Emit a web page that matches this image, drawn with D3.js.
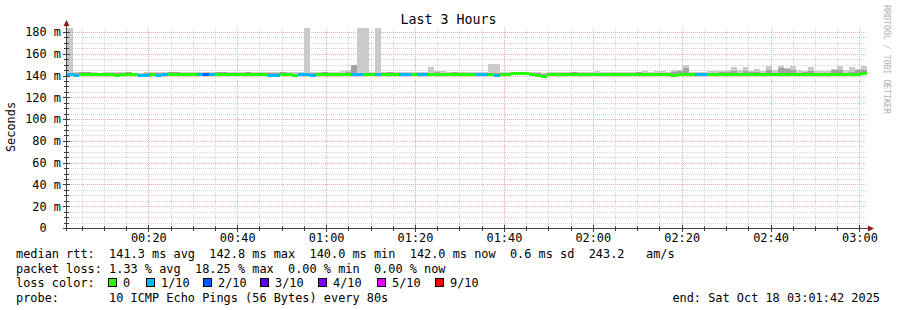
<!DOCTYPE html>
<html><head><meta charset="utf-8">
<script src="https://cdn.jsdelivr.net/npm/d3@7/dist/d3.min.js"></script>
<style>
html,body{margin:0;padding:0;background:#fff;}
svg{display:block;}
text{font-family:"DejaVu Sans Mono",monospace;white-space:pre;}
</style></head><body>
<svg id="c" width="897" height="310"></svg>
<script>
// ---- data (one value per 80 s step, 135 steps) ----
const med = [
141.0,140.8,141.6,141.7,141.3,141.1,141.4,141.0,140.9,141.3,
141.5,141.1,140.5,140.5,141.3,140.9,141.4,141.7,141.6,141.3,
141.5,141.3,141.0,141.1,141.0,141.6,141.8,141.5,141.2,141.4,
141.8,141.3,141.0,141.2,140.8,140.8,141.6,141.4,140.4,141.0,
141.0,140.9,141.4,141.7,141.5,141.3,141.5,141.6,141.2,141.0,
141.2,141.4,141.0,141.5,141.6,141.2,141.3,141.0,141.1,141.5,
141.2,141.0,141.6,141.3,141.4,141.6,141.5,141.2,141.4,141.1,
141.0,141.3,140.9,141.2,141.4,142.4,142.3,142.2,141.4,140.8,
140.0,141.3,141.5,141.2,141.4,141.6,141.3,141.2,141.5,141.4,
141.1,141.3,141.5,141.2,141.3,141.4,141.6,141.3,141.1,141.4,
141.5,141.2,140.8,141.3,141.8,141.2,141.5,141.4,141.5,141.3,
141.6,141.4,141.2,141.5,141.3,141.7,141.4,141.2,141.5,141.3,
141.6,141.4,141.2,141.5,141.6,141.3,141.4,141.5,141.2,141.6,
141.4,141.5,141.3,141.8,142.0];
const pingLo = [
139.6,139.4,140.0,140.2,139.8,139.7,139.9,139.5,139.4,139.8,
140.0,139.6,139.1,139.2,139.8,139.5,139.9,140.2,140.0,139.8,
140.0,139.8,139.5,139.6,139.5,140.1,140.2,140.0,139.7,139.9,
140.2,139.8,139.5,139.7,139.4,139.4,140.0,139.9,139.0,139.6,
139.5,139.4,139.9,140.1,140.0,139.8,140.0,140.1,139.7,139.5,
139.7,139.9,139.5,140.0,140.1,139.7,139.8,139.5,139.6,140.0,
139.7,139.5,140.1,139.8,139.9,140.1,140.0,139.7,139.9,139.6,
139.5,139.8,139.4,139.7,139.9,140.8,140.7,140.6,139.9,139.4,
138.7,139.8,140.0,139.7,139.9,140.1,139.8,139.7,140.0,139.9,
139.6,139.8,140.0,139.7,139.8,139.9,140.1,139.8,139.6,139.9,
140.0,139.7,139.3,139.8,140.2,139.7,140.0,139.9,140.0,139.8,
140.1,139.9,139.7,140.0,139.8,140.2,139.9,139.7,140.0,139.8,
140.1,139.9,139.7,140.0,140.1,139.8,139.9,140.0,139.7,140.1,
139.9,140.0,139.8,140.3,140.5];
const pingHi = [
190.0,143.0,142.9,143.3,143.1,142.8,143.2,143.4,142.9,143.0,
143.3,142.8,142.7,142.9,143.1,143.2,143.0,143.5,143.3,143.0,
143.4,143.6,143.2,143.0,143.2,143.4,143.5,143.1,143.0,143.2,
143.5,143.1,142.9,143.0,143.3,142.9,143.4,143.6,143.1,143.0,
190.0,143.1,143.3,143.5,143.2,143.0,144.0,144.8,150.0,190.0,
190.0,143.5,190.0,143.4,143.6,143.2,143.3,143.5,143.1,143.4,
143.2,148.0,144.5,144.2,143.3,143.6,143.2,143.1,143.4,143.0,
143.2,151.0,151.0,143.1,143.5,143.6,143.5,143.4,143.3,143.5,
142.8,143.1,143.6,143.4,143.2,143.5,143.3,143.0,143.6,143.8,
143.2,143.4,143.6,143.5,143.3,143.7,143.4,144.0,143.6,143.8,
144.2,143.5,145.0,145.2,150.0,143.6,143.3,143.2,143.8,144.2,
144.5,145.5,147.5,145.0,147.5,144.2,146.0,144.3,149.0,145.0,
148.5,147.0,149.0,145.0,144.2,148.0,144.3,144.6,144.2,146.0,
149.0,145.0,148.0,146.0,149.0];
const pingMid = [
142.6,142.2,142.9,143.0,142.6,142.4,142.7,142.5,142.2,142.6,
142.9,142.4,141.8,141.9,142.6,142.2,142.7,143.0,142.9,142.6,
142.8,142.7,142.3,142.4,142.3,142.9,143.1,142.8,142.5,142.7,
143.1,142.6,142.3,142.5,142.1,142.1,142.9,142.8,141.7,142.3,
142.4,142.2,142.7,143.0,142.8,142.6,142.8,143.3,150.0,142.6,
142.5,142.7,142.3,142.8,142.9,142.5,142.6,142.3,142.4,142.8,
142.5,142.3,142.9,142.6,142.7,142.9,142.8,142.5,142.7,142.4,
142.3,142.6,142.2,142.5,142.7,143.7,143.6,143.5,142.7,142.1,
141.4,142.6,142.8,142.5,142.7,142.9,142.6,142.5,142.8,142.7,
142.4,142.6,142.8,142.5,142.6,142.7,142.9,142.6,142.4,142.7,
142.8,142.5,143.5,143.8,146.5,142.5,142.8,142.7,142.8,142.6,
143.5,143.5,144.5,142.8,144.5,143.0,143.2,142.5,145.0,142.6,
146.5,146.0,145.5,142.8,142.9,144.5,142.7,142.8,142.5,144.8,
145.0,142.8,143.5,145.5,145.5];
const loss = [
1,1,0,0,0,0,0,0,0,0,
0,0,1,1,0,1,1,0,0,0,
0,0,1,2,1,0,0,0,0,0,
0,0,0,0,1,1,0,0,0,1,
1,1,0,0,0,0,0,0,1,1,
0,0,1,0,0,0,1,1,0,1,
1,0,0,0,0,0,0,0,0,1,
1,0,1,0,0,0,0,0,0,0,
0,0,0,0,0,0,0,0,0,0,
0,0,0,0,0,0,0,0,0,0,
0,0,0,0,0,0,1,1,0,0,
0,0,0,0,0,0,0,0,0,0,
0,0,0,0,0,0,0,0,0,0,
0,0,0,0,0];
const lossLevels = [0,1,2,3,4,5,9];
const lossLabels = ["0","1/10","2/10","3/10","4/10","5/10","9/10"];
const lossColors = ["#26ff00","#00b8ff","#0059ff","#5e00ff","#7e00ff","#dd00ff","#ff0000"];
const yTickValues = [0,20,40,60,80,100,120,140,160,180];
const titleText = "Last 3 Hours";
const yAxisTitle = "Seconds";
const watermark = "RRDTOOL / TOBI OETIKER";
const legendLines = [
  "median rtt:  141.3 ms avg  142.8 ms max  140.0 ms min  142.0 ms now  0.6 ms sd  243.2   am/s",
  "packet loss: 1.33 % avg  18.25 % max  0.00 % min  0.00 % now"
];
const lossColorTitle = "loss color:";
const probeLine = "probe:       10 ICMP Echo Pings (56 Bytes) every 80s";
const endLine = "end: Sat Oct 18 03:01:42 2025";
const startTime = Date.UTC(2025,9,18,0,1,42);
const stepSeconds = 80;

// ---- layout ----
const svg = d3.select("#c");
const L = 67, R = 867, T = 28, B = 228;
const FS = 11.9;
const nSteps = med.length;
const x = d3.scaleUtc().domain([new Date(startTime), new Date(startTime + nSteps*stepSeconds*1000)]).range([L, R]);
const y = d3.scaleLinear().domain([0, 183.67]).range([B, T]).clamp(true);
const tAt = i => new Date(startTime + i*stepSeconds*1000);
const px = v => Math.round(v);

svg.append("rect").attr("width",897).attr("height",310).attr("fill","#fff");

// grid
const g = svg.append("g").attr("shape-rendering","crispEdges");
const yGrid = y.ticks(40).filter(v => v > 0);
const xMinor = x.ticks(d3.utcMinute.every(5));
const xMajor = x.ticks(d3.utcMinute.every(20));
const isMajorX = d => d.getUTCMinutes() % 20 === 0;
const minorCol = "#d4d4d4", majorCol = "#f2aaaa";
g.selectAll(".hm").data(yGrid.filter(v => v % 20 !== 0)).join("line")
  .attr("x1",L).attr("x2",R).attr("y1",d=>px(y(d))+0.5).attr("y2",d=>px(y(d))+0.5)
  .attr("stroke",minorCol).attr("stroke-dasharray","1,1");
g.selectAll(".vm").data(xMinor.filter(d=>!isMajorX(d))).join("line")
  .attr("y1",T).attr("y2",B).attr("x1",d=>px(x(d))+0.5).attr("x2",d=>px(x(d))+0.5)
  .attr("stroke",minorCol).attr("stroke-dasharray","1,1");
g.selectAll(".hM").data(yGrid.filter(v => v % 20 === 0)).join("line")
  .attr("x1",L).attr("x2",R).attr("y1",d=>px(y(d))+0.5).attr("y2",d=>px(y(d))+0.5)
  .attr("stroke",majorCol).attr("stroke-dasharray","1,1");
g.selectAll(".vM").data(xMajor).join("line")
  .attr("y1",T).attr("y2",B).attr("x1",d=>px(x(d))+0.5).attr("x2",d=>px(x(d))+0.5)
  .attr("stroke",majorCol).attr("stroke-dasharray","1,1");

// smoke
const steps = d3.range(nSteps);
const sm = svg.append("g").attr("shape-rendering","crispEdges");
sm.selectAll(".s1").data(steps).join("rect")
  .attr("x",i=>px(x(tAt(i)))).attr("width",i=>px(x(tAt(i+1)))-px(x(tAt(i))))
  .attr("y",i=>px(y(pingHi[i]))).attr("height",i=>Math.max(0,px(y(pingLo[i]))-px(y(pingHi[i]))))
  .attr("fill","#cacaca");
sm.selectAll(".s2").data(steps).join("rect")
  .attr("x",i=>px(x(tAt(i)))).attr("width",i=>px(x(tAt(i+1)))-px(x(tAt(i))))
  .attr("y",i=>px(y(pingMid[i]))).attr("height",i=>Math.max(0,px(y(med[i]))-px(y(pingMid[i]))))
  .attr("fill","#a2a2a2");

// median band coloured by loss
const lossColor = n => { let c = lossColors[0]; lossLevels.forEach((l,k)=>{ if (n >= l) c = lossColors[k]; }); return c; };
sm.selectAll(".md").data(steps).join("rect")
  .attr("x",i=>px(x(tAt(i)))).attr("width",i=>px(x(tAt(i+1)))-px(x(tAt(i))))
  .attr("y",i=>px(y(med[i]))-1).attr("height",3)
  .attr("fill",i=>lossColor(loss[i]));

// axes
const axisColor = "#404040", arrowColor = "#8c1a1a";
const ax = svg.append("g").attr("shape-rendering","crispEdges");
ax.selectAll(".ty").data(yGrid).join("line")
  .attr("x1",d=> d%20===0 ? 63 : 64).attr("x2",d=> d%20===0 ? 70 : 69)
  .attr("y1",d=>px(y(d))+0.5).attr("y2",d=>px(y(d))+0.5).attr("stroke",axisColor);
ax.selectAll(".tx").data(xMinor).join("line")
  .attr("y1",d=> isMajorX(d) ? B-3 : B-2).attr("y2",d=> isMajorX(d) ? B+4 : B+3)
  .attr("x1",d=>px(x(d))+0.5).attr("x2",d=>px(x(d))+0.5).attr("stroke",axisColor);
ax.append("line").attr("x1",L-0.5).attr("x2",L-0.5).attr("y1",24).attr("y2",B+3).attr("stroke",axisColor);
ax.append("line").attr("x1",L-4).attr("x2",R+2).attr("y1",B+0.5).attr("y2",B+0.5).attr("stroke",axisColor);
svg.append("path").attr("d",`M${L-3.5},${T-2} L${L+2.5},${T-2} L${L-0.5},${T-8} Z`).attr("fill",arrowColor);
svg.append("path").attr("d",`M${R+1},${B-2.5} L${R+1},${B+3.5} L${R+7},${B+0.5} Z`).attr("fill",arrowColor);

// axis labels via d3 axes
const yAx = svg.append("g").attr("transform",`translate(${L-1},0)`)
  .call(d3.axisLeft(y).tickValues(yTickValues).tickSize(0).tickPadding(5)
    .tickFormat(d => d === 0 ? "0" : d + " m"));
yAx.select(".domain").remove();
yAx.selectAll("text").attr("font-family","DejaVu Sans Mono").attr("font-size",FS).attr("fill","#000")
  .attr("dx", d => d === 0 ? -14.3 : 0);
const xAx = svg.append("g").attr("transform",`translate(0,${B})`)
  .call(d3.axisBottom(x).tickValues(xMajor).tickSize(0).tickPadding(5.5)
    .tickFormat(d3.utcFormat("%H:%M")));
xAx.select(".domain").remove();
xAx.selectAll("text").attr("font-family","DejaVu Sans Mono").attr("font-size",FS).attr("fill","#000");

// titles
svg.append("text").attr("x",448.5).attr("y",24).attr("text-anchor","middle")
  .attr("font-size",13.3).text(titleText);
svg.append("text").attr("transform","translate(15,127) rotate(-90)").attr("text-anchor","middle")
  .attr("font-size",FS).text(yAxisTitle);
svg.append("text").attr("transform","translate(884,5) rotate(90)")
  .attr("font-size",8.6).attr("fill","#b4b4b4").attr("textLength",109).attr("lengthAdjust","spacing").text(watermark);

// legend
const lx = 16, ly = [258, 272.5, 287, 301.5];
legendLines.forEach((s,k)=> svg.append("text").attr("x",lx).attr("y",ly[k]).attr("font-size",FS).text(s));
svg.append("text").attr("x",lx).attr("y",ly[2]).attr("font-size",FS).text(lossColorTitle);
const boxX = [108,146,203,260,318,377,435];
lossLabels.forEach((lab,k)=>{
  svg.append("rect").attr("x",boxX[k]+0.5).attr("y",ly[2]-8.5).attr("width",8).attr("height",8)
    .attr("fill",lossColors[k]).attr("stroke","#000").attr("shape-rendering","crispEdges");
  svg.append("text").attr("x",boxX[k]+15).attr("y",ly[2]).attr("font-size",FS).text(lab);
});
svg.append("text").attr("x",lx).attr("y",ly[3]).attr("font-size",FS).text(probeLine);
svg.append("text").attr("x",880).attr("y",ly[3]).attr("text-anchor","end").attr("font-size",FS).text(endLine);
</script>
</body></html>
